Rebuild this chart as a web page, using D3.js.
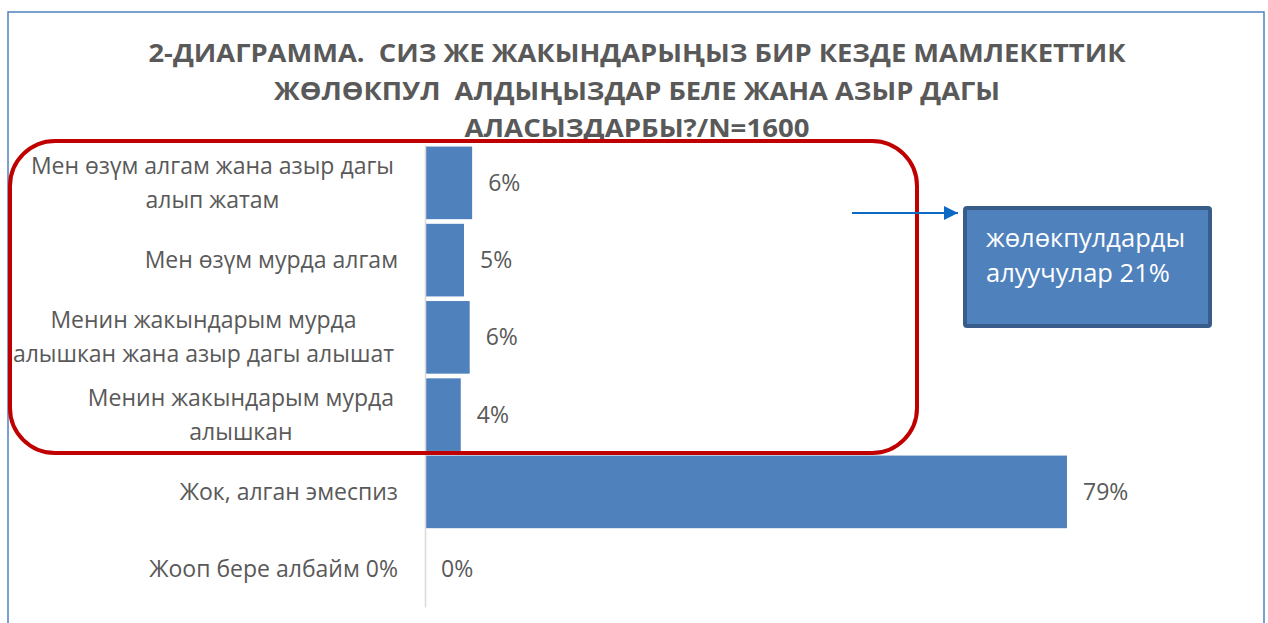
<!DOCTYPE html>
<html><head><meta charset="utf-8">
<script src="https://cdn.jsdelivr.net/npm/d3@7"></script>
<style>
html,body{margin:0;padding:0;background:#fff;}
svg{display:block;}
text{font-family:"Open Sans","Noto Sans",sans-serif;}
</style></head>
<body>
<script>
const titleLines = ["2-ДИАГРАММА.  СИЗ ЖЕ ЖАКЫНДАРЫҢЫЗ БИР КЕЗДЕ МАМЛЕКЕТТИК",
                    "ЖӨЛӨКПУЛ  АЛДЫҢЫЗДАР БЕЛЕ ЖАНА АЗЫР ДАГЫ",
                    "АЛАСЫЗДАРБЫ?/N=1600"];
const categories = [
  ["Мен өзүм алгам жана азыр дагы","алып жатам"],
  ["Мен өзүм мурда алгам"],
  ["Менин жакындарым мурда","алышкан жана азыр дагы алышат"],
  ["Менин жакындарым мурда","алышкан"],
  ["Жок, алган эмеспиз"],
  ["Жооп бере албайм 0%"]
];
const values = [5.8, 4.8, 5.5, 4.4, 79.0, 0];
const valueLabels = ["6%","5%","6%","4%","79%","0%"];
const calloutLines = ["жөлөкпулдарды","алуучулар 21%"];

const W = 1268, H = 623;
const svg = d3.select("body").append("svg").attr("width", W).attr("height", H);

// outer chart border
svg.append("rect").attr("x", 8).attr("y", 12).attr("width", 1256).attr("height", 640)
  .attr("fill", "none").attr("stroke", "#4F81BD").attr("stroke-width", 1.5);

// title
const titleW = [977, 726, 345];
const titleY = [62, 100, 137];
titleLines.forEach((t, i) => {
  svg.append("text").attr("x", 637).attr("y", titleY[i])
    .attr("text-anchor", "middle")
    .attr("font-size", 25).attr("font-weight", 700).attr("fill", "#595959")
    .attr("textLength", titleW[i]).attr("lengthAdjust", "spacingAndGlyphs")
    .style("white-space", "pre")
    .text(t);
});

const ids = categories.map((c, i) => i);
const y = d3.scaleBand().domain(ids).range([145, 607]).paddingInner(0.06).paddingOuter(0.02);
const x = d3.scaleLinear().domain([0, 79]).range([425, 1067]);

// bars
svg.append("g").selectAll("rect").data(values).join("rect")
  .attr("x", x(0)).attr("y", (d, i) => y(i))
  .attr("width", d => x(d) - x(0)).attr("height", y.bandwidth())
  .attr("fill", "#4F81BD");

// axis line
const axis = d3.axisLeft(y).tickSize(0).tickFormat("");
const ag = svg.append("g").attr("transform", `translate(${x(0)},0)`).call(axis);
ag.select(".domain").attr("stroke", "#D9D9D9").attr("stroke-width", 1.5);

// category labels
const fs = 23, lh = 34;
categories.forEach((lines, i) => {
  const cy = y(i) + y.bandwidth() / 2;
  const g = svg.append("text").attr("font-size", fs).attr("fill", "#595959").attr("text-anchor", "middle");
  const n = lines.length;
  lines.forEach((l, j) => {
    g.append("tspan").attr("y", cy + (j - (n - 1) / 2) * lh).attr("dy", "0.35em").text(l);
  });
  const tmp = svg.append("text").attr("font-size", fs);
  let maxW = 0;
  lines.forEach(l => { tmp.text(l); maxW = Math.max(maxW, tmp.node().getComputedTextLength()); });
  tmp.remove();
  const right = n > 1 ? 394 : 398;
  g.selectAll("tspan").attr("x", right - maxW / 2);
});

// value labels
svg.append("g").selectAll("text").data(values).join("text")
  .attr("x", d => x(d) + 16).attr("y", (d, i) => y(i) + y.bandwidth() / 2)
  .attr("dy", "0.35em").attr("font-size", fs).attr("fill", "#595959")
  .text((d, i) => valueLabels[i]);

// red rounded highlight
svg.append("rect").attr("x", 10).attr("y", 141).attr("width", 907).attr("height", 312)
  .attr("rx", 45).attr("ry", 45)
  .attr("fill", "none").attr("stroke", "#C00000").attr("stroke-width", 4);

// arrow
const defs = svg.append("defs");
defs.append("marker").attr("id", "ah").attr("viewBox", "0 0 10 10")
  .attr("refX", 10).attr("refY", 5).attr("markerWidth", 16).attr("markerHeight", 14)
  .attr("markerUnits", "userSpaceOnUse").attr("orient", "auto")
  .append("path").attr("d", "M0,0 L10,5 L0,10 Z").attr("fill", "#0B6BC4");
svg.append("line").attr("x1", 852).attr("y1", 213).attr("x2", 958).attr("y2", 213)
  .attr("stroke", "#0B6BC4").attr("stroke-width", 2).attr("marker-end", "url(#ah)");

// callout box
svg.append("rect").attr("x", 965).attr("y", 208).attr("width", 245).attr("height", 118)
  .attr("rx", 2).attr("fill", "#4F81BD").attr("stroke", "#385D8A").attr("stroke-width", 4);
const ct = svg.append("text").attr("font-size", 25.5).attr("fill", "#fff");
calloutLines.forEach((l, j) => {
  ct.append("tspan").attr("x", 986).attr("y", 247 + j * 35).text(l);
});
</script>
</body></html>
